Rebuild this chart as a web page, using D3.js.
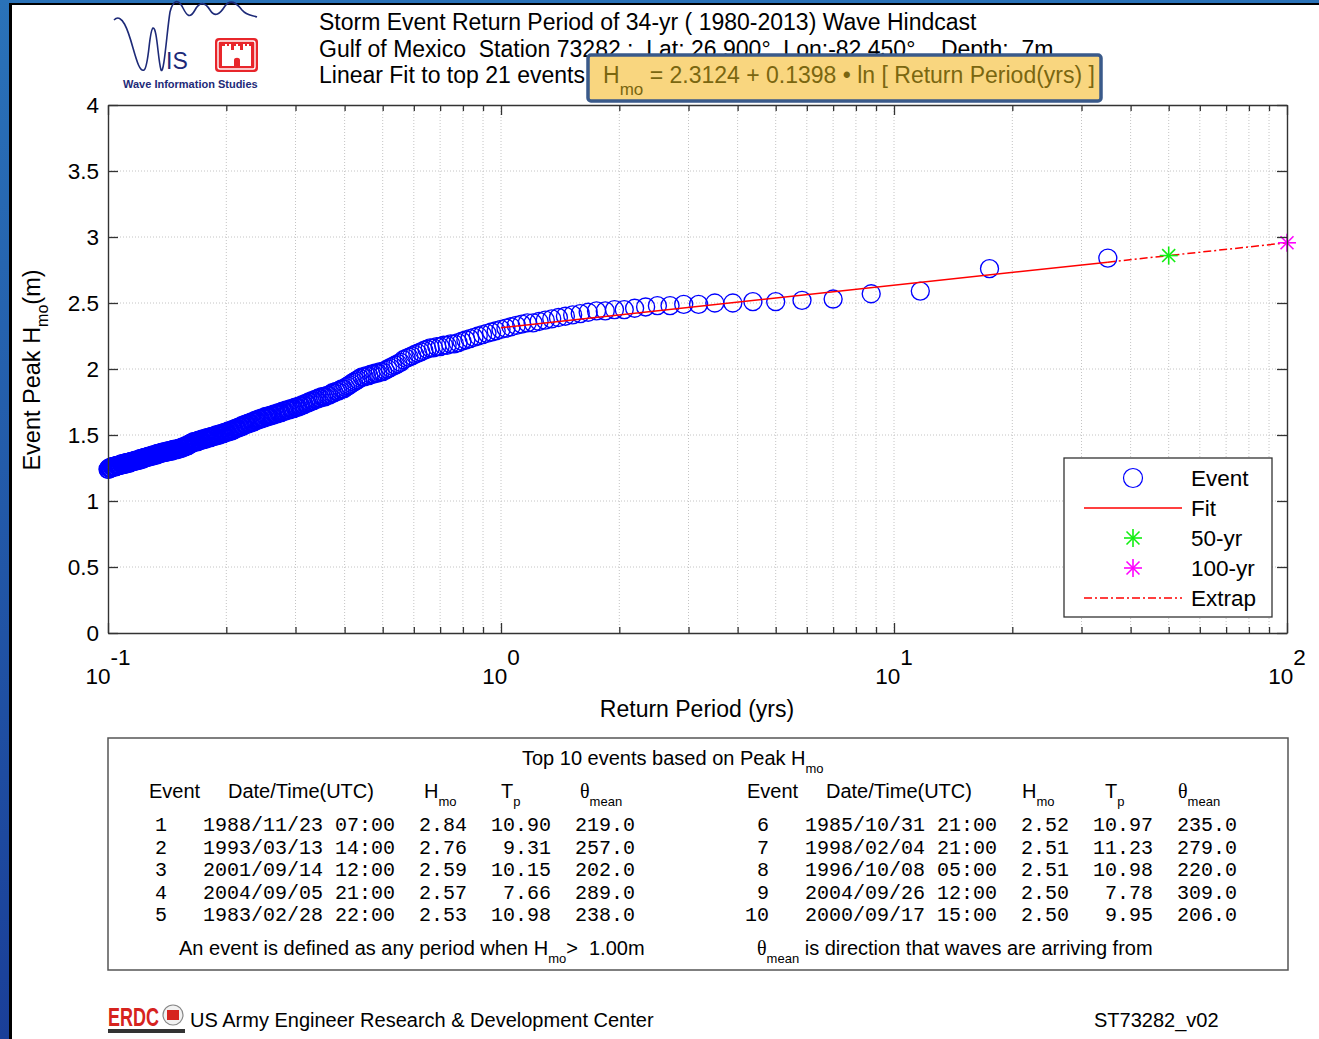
<!DOCTYPE html>
<html>
<head>
<meta charset="utf-8">
<script src="https://cdn.jsdelivr.net/npm/d3@7"></script>
<style>
  html, body { margin: 0; padding: 0; background: #fff; }
  svg { display: block; }
  text { font-family: "Liberation Sans", Arial, Helvetica, sans-serif; fill: #000; }
  .mono { font-family: "Liberation Mono", "Courier New", monospace; }
  .pre { white-space: pre; }
</style>
</head>
<body>
<svg id="chart" width="1319" height="1039"></svg>
<script>
// ---- Hindcast record -------------------------------------------------------
const recordYears = 34;              // 1980-2013
const eventThreshold = 1.00;         // m, Hmo threshold defining an event

// Peak Hmo (m) of every storm event, ranked from largest to smallest
const eventHmo = [
  2.84, 2.76, 2.59, 2.57, 2.53, 2.52, 2.51, 2.51, 2.50, 2.50,
  2.49, 2.49, 2.48, 2.48, 2.47, 2.46, 2.45, 2.45, 2.44, 2.44,
  2.43, 2.42, 2.41, 2.40, 2.39, 2.38, 2.37, 2.36, 2.35, 2.35,
  2.34, 2.33, 2.32, 2.31, 2.30, 2.29, 2.28, 2.27, 2.26, 2.25,
  2.24, 2.23, 2.22, 2.21, 2.20, 2.19, 2.19, 2.18, 2.18, 2.17,
  2.17, 2.16, 2.16, 2.15, 2.14, 2.13, 2.12, 2.11, 2.10, 2.09,
  2.08, 2.07, 2.05, 2.04, 2.03, 2.02, 2.01, 2.00, 1.99, 1.98,
  1.98, 1.97, 1.97, 1.96, 1.96, 1.95, 1.95, 1.94, 1.94, 1.93,
  1.92, 1.91, 1.90, 1.89, 1.88, 1.87, 1.86, 1.85, 1.85, 1.84,
  1.83, 1.83, 1.82, 1.82, 1.81, 1.80, 1.80, 1.79, 1.79, 1.79,
  1.78, 1.78, 1.77, 1.77, 1.76, 1.76, 1.75, 1.75, 1.74, 1.74,
  1.73, 1.73, 1.72, 1.72, 1.71, 1.71, 1.71, 1.70, 1.70, 1.70,
  1.69, 1.69, 1.69, 1.68, 1.68, 1.68, 1.67, 1.67, 1.67, 1.66,
  1.66, 1.66, 1.65, 1.65, 1.65, 1.64, 1.64, 1.64, 1.64, 1.63,
  1.63, 1.63, 1.62, 1.62, 1.62, 1.61, 1.61, 1.61, 1.60, 1.60,
  1.60, 1.59, 1.59, 1.59, 1.58, 1.58, 1.58, 1.57, 1.57, 1.57,
  1.56, 1.56, 1.56, 1.55, 1.55, 1.55, 1.54, 1.54, 1.54, 1.53,
  1.53, 1.53, 1.53, 1.52, 1.52, 1.52, 1.52, 1.51, 1.51, 1.51,
  1.51, 1.50, 1.50, 1.50, 1.50, 1.50, 1.49, 1.49, 1.49, 1.49,
  1.49, 1.48, 1.48, 1.48, 1.48, 1.48, 1.47, 1.47, 1.47, 1.47,
  1.47, 1.46, 1.46, 1.46, 1.46, 1.46, 1.45, 1.45, 1.45, 1.45,
  1.45, 1.45, 1.44, 1.44, 1.44, 1.43, 1.43, 1.43, 1.42, 1.42,
  1.42, 1.42, 1.41, 1.41, 1.41, 1.41, 1.40, 1.40, 1.40, 1.40,
  1.40, 1.39, 1.39, 1.39, 1.39, 1.39, 1.39, 1.39, 1.39, 1.38,
  1.38, 1.38, 1.38, 1.38, 1.38, 1.38, 1.38, 1.37, 1.37, 1.37,
  1.37, 1.37, 1.37, 1.37, 1.37, 1.36, 1.36, 1.36, 1.36, 1.36,
  1.36, 1.36, 1.35, 1.35, 1.35, 1.35, 1.35, 1.35, 1.35, 1.34,
  1.34, 1.34, 1.34, 1.34, 1.34, 1.34, 1.33, 1.33, 1.33, 1.33,
  1.33, 1.33, 1.33, 1.32, 1.32, 1.32, 1.32, 1.32, 1.32, 1.32,
  1.31, 1.31, 1.31, 1.31, 1.31, 1.31, 1.31, 1.31, 1.30, 1.30,
  1.30, 1.30, 1.30, 1.30, 1.30, 1.30, 1.29, 1.29, 1.29, 1.29,
  1.29, 1.29, 1.29, 1.29, 1.29, 1.28, 1.28, 1.28, 1.28, 1.28,
  1.28, 1.28, 1.28, 1.28, 1.27, 1.27, 1.27, 1.27, 1.27, 1.27,
  1.27, 1.27, 1.27, 1.26, 1.26, 1.26, 1.26, 1.26, 1.26, 1.26,
  1.26, 1.26, 1.25, 1.25, 1.25, 1.25, 1.25, 1.25, 1.24, 1.24
];

// Linear fit  Hmo = a + b * ln(T)  over the top events
const fitIntercept = 2.3124;
const fitSlope = 0.1398;
const fitEventCount = 21;
const designPeriods = [50, 100];          // yr, extrapolated return levels
const extrapEnd = 100;

// Axis ticks
const yTicks = [0, 0.5, 1, 1.5, 2, 2.5, 3, 3.5, 4];
const yTickLabels = ["0", "0.5", "1", "1.5", "2", "2.5", "3", "3.5", "4"];
const xMajorTicks = [0.1, 1, 10, 100];
const xTickExponents = ["-1", "0", "1", "2"];

// Top-10 table
const tableDates = ["1988/11/23 07:00", "1993/03/13 14:00", "2001/09/14 12:00", "2004/09/05 21:00", "1983/02/28 22:00",
                    "1985/10/31 21:00", "1998/02/04 21:00", "1996/10/08 05:00", "2004/09/26 12:00", "2000/09/17 15:00"];
const tableTp    = [10.90, 9.31, 10.15, 7.66, 10.98, 10.97, 11.23, 10.98, 7.78, 9.95];
const tableTheta = [219.0, 257.0, 202.0, 289.0, 238.0, 235.0, 279.0, 220.0, 309.0, 206.0];

// ---- Drawing ---------------------------------------------------------------
const W = 1319, H = 1039;
const FS = 22.5;                       // plot text size
const svg = d3.select("#chart");

// slide backdrop with the white panel
const defs = svg.append("defs");
const bg = defs.append("linearGradient").attr("id", "bgBlue").attr("x1", 0).attr("y1", 0).attr("x2", 0).attr("y2", 1);
bg.append("stop").attr("offset", 0).attr("stop-color", "#2a72b8");
bg.append("stop").attr("offset", 1).attr("stop-color", "#1a3f99");
svg.append("rect").attr("width", W).attr("height", H).attr("fill", "url(#bgBlue)");
svg.append("rect").attr("x", 9).attr("y", 3).attr("width", W - 9).attr("height", H - 3).attr("fill", "#000");
svg.append("rect").attr("x", 12).attr("y", 5).attr("width", W - 12).attr("height", H - 5).attr("fill", "#fff");

const x = d3.scaleLog().domain([0.1, 100]).range([108, 1287]);
const y = d3.scaleLinear().domain([0, 4]).range([633, 105]);
const [x0, x1] = x.range(), [y0, y1] = y.range();

const returnPeriod = rank => (recordYears + 1) / rank;
const fitHmo = T => fitIntercept + fitSlope * Math.log(T);

// grid
const allXTicks = x.ticks();
const grid = svg.append("g").attr("stroke", "#c4c4c4").attr("stroke-width", 1).attr("stroke-dasharray", "1,2");
grid.selectAll("line.v").data(allXTicks.filter(t => t > 0.1 && t < 100)).join("line")
  .attr("x1", d => x(d)).attr("x2", d => x(d)).attr("y1", y1).attr("y2", y0);
grid.selectAll("line.h").data(yTicks.filter(t => t > 0 && t < 4)).join("line")
  .attr("x1", x0).attr("x2", x1).attr("y1", d => y(d)).attr("y2", d => y(d));

// events
const events = eventHmo.map((h, i) => ({ T: returnPeriod(i + 1), h }));
svg.append("g").selectAll("circle").data(events).join("circle")
  .attr("cx", d => x(d.T)).attr("cy", d => y(d.h)).attr("r", 9)
  .attr("fill", "none").attr("stroke", "#0000ff").attr("stroke-width", 1.35);

// fit and extrapolation
const fitLine = d3.line().x(d => x(d)).y(d => y(fitHmo(d)));
const tFitStart = 1, tFitEnd = returnPeriod(1);
svg.append("path").attr("d", fitLine([tFitStart, tFitEnd]))
  .attr("fill", "none").attr("stroke", "#ff0000").attr("stroke-width", 1.5);
svg.append("path").attr("d", fitLine([tFitEnd, extrapEnd]))
  .attr("fill", "none").attr("stroke", "#ff0000").attr("stroke-width", 1.5).attr("stroke-dasharray", "8,3,2,3");

function star(g, cx, cy, r, color) {
  const d = r * 0.72;
  const s = g.append("g").attr("stroke", color).attr("stroke-width", 1.6);
  s.append("line").attr("x1", cx - r).attr("x2", cx + r).attr("y1", cy).attr("y2", cy);
  s.append("line").attr("x1", cx).attr("x2", cx).attr("y1", cy - r).attr("y2", cy + r);
  s.append("line").attr("x1", cx - d).attr("x2", cx + d).attr("y1", cy - d).attr("y2", cy + d);
  s.append("line").attr("x1", cx - d).attr("x2", cx + d).attr("y1", cy + d).attr("y2", cy - d);
}
const starColors = ["#11ee11", "#ff00ff"];
designPeriods.forEach((T, i) => star(svg, x(T), y(fitHmo(T)), 9, starColors[i]));

// axes (ticks point inward, box all round)
function styleAxis(g) {
  g.selectAll("path.domain").attr("stroke", "#333").attr("stroke-width", 1.4);
  g.selectAll(".tick line").attr("stroke", "#333").attr("stroke-width", 1.3);
}
const minorX = allXTicks.filter(t => !xMajorTicks.includes(t));
svg.append("g").attr("transform", `translate(0,${y0})`)
  .call(d3.axisBottom(x).tickValues(xMajorTicks).tickSize(-10).tickSizeOuter(0).tickFormat(""))
  .call(styleAxis);
svg.append("g").attr("transform", `translate(0,${y0})`)
  .call(d3.axisBottom(x).tickValues(minorX).tickSize(-6).tickSizeOuter(0).tickFormat(""))
  .call(styleAxis).call(g => g.select(".domain").remove());
svg.append("g").attr("transform", `translate(0,${y1})`)
  .call(d3.axisTop(x).tickValues(xMajorTicks).tickSize(-10).tickSizeOuter(0).tickFormat(""))
  .call(styleAxis);
svg.append("g").attr("transform", `translate(0,${y1})`)
  .call(d3.axisTop(x).tickValues(minorX).tickSize(-6).tickSizeOuter(0).tickFormat(""))
  .call(styleAxis).call(g => g.select(".domain").remove());
const yAxis = svg.append("g").attr("transform", `translate(${x0},0)`)
  .call(d3.axisLeft(y).tickValues(yTicks).tickSize(-10).tickSizeOuter(0).tickPadding(9)
    .tickFormat((d, i) => yTickLabels[i]))
  .call(styleAxis);
yAxis.selectAll("text").attr("font-size", FS).attr("fill", "#111")
  .style("font-family", '"Liberation Sans", Arial, sans-serif');
svg.append("g").attr("transform", `translate(${x1},0)`)
  .call(d3.axisRight(y).tickValues(yTicks).tickSize(-10).tickSizeOuter(0).tickFormat(""))
  .call(styleAxis);

// x tick labels 10^n
xMajorTicks.forEach((v, i) => {
  const t = svg.append("text").attr("x", x(v)).attr("y", 684).attr("text-anchor", "middle")
    .attr("font-size", FS).attr("fill", "#111");
  t.append("tspan").text("10");
  t.append("tspan").attr("dy", -19).text(xTickExponents[i]);
});

// axis titles
svg.append("text").attr("x", 697).attr("y", 717).attr("text-anchor", "middle")
  .attr("font-size", 23).attr("fill", "#111").text("Return Period (yrs)");
const yt = svg.append("text").attr("transform", "translate(40,370) rotate(-90)")
  .attr("text-anchor", "middle").attr("font-size", 23.5).attr("fill", "#111");
yt.append("tspan").text("Event Peak H");
yt.append("tspan").attr("dy", 8).attr("font-size", 16).text("mo");
yt.append("tspan").attr("dy", -8).text("(m)");

// legend
const lg = svg.append("g");
lg.append("rect").attr("x", 1064).attr("y", 458).attr("width", 208).attr("height", 159)
  .attr("fill", "#fff").attr("stroke", "#333").attr("stroke-width", 1.3);
const legendItems = ["Event", "Fit", "50-yr", "100-yr", "Extrap"];
legendItems.forEach((name, i) => {
  const cy = 478 + i * 30;
  lg.append("text").attr("x", 1191).attr("y", cy + 8).attr("font-size", FS).attr("fill", "#111").text(name);
});
lg.append("circle").attr("cx", 1133).attr("cy", 478).attr("r", 9.5)
  .attr("fill", "none").attr("stroke", "#0000ff").attr("stroke-width", 1.2);
lg.append("line").attr("x1", 1084).attr("x2", 1182).attr("y1", 508).attr("y2", 508)
  .attr("stroke", "#ff0000").attr("stroke-width", 1.5);
star(lg, 1133, 538, 9, starColors[0]);
star(lg, 1133, 568, 9, starColors[1]);
lg.append("line").attr("x1", 1084).attr("x2", 1182).attr("y1", 598).attr("y2", 598)
  .attr("stroke", "#ff0000").attr("stroke-width", 1.5).attr("stroke-dasharray", "8,3,2,3");

// title block
const title = svg.append("g").attr("font-size", 23).attr("fill", "#111");
title.append("text").attr("x", 319).attr("y", 30).attr("class", "pre")
  .text(`Storm Event Return Period of ${recordYears}-yr ( 1980-2013) Wave Hindcast`);
title.append("text").attr("x", 319).attr("y", 57).attr("class", "pre")
  .text("Gulf of Mexico  Station 73282 :  Lat: 26.900\u00b0  Lon:-82.450\u00b0    Depth:  7m");
title.append("text").attr("x", 319).attr("y", 83)
  .text(`Linear Fit to top ${fitEventCount} events`);

// fit equation callout
svg.append("rect").attr("x", 588).attr("y", 55).attr("width", 513).attr("height", 46).attr("rx", 3)
  .attr("fill", "#f9d67f").attr("stroke", "#3a5a8a").attr("stroke-width", 3.5);
const eq = svg.append("text").attr("x", 603).attr("y", 83).attr("font-size", 23).attr("class", "pre")
  .style("fill", "#7a6610");
eq.append("tspan").text("H");
eq.append("tspan").attr("dy", 12).attr("font-size", 17).text("mo");
eq.append("tspan").attr("dy", -12).text(` = ${fitIntercept.toFixed(4)} + ${fitSlope.toFixed(4)} \u2022 ln [ Return Period(yrs) ]`);

// WIS logo
const logo = svg.append("g");
logo.append("path")
  .attr("d", "M114,20 C122,12 128,30 133,48 C137,62 140,72 144,70 C149,67 149,30 153,28 C157,27 158,60 161,70 " +
             "C164,76 167,30 170,12 C173,0 178,-2 183,8 C187,16 190,19 195,10 C200,1 205,2 210,10 C215,18 220,14 225,6 " +
             "C230,-1 236,2 242,10 C247,16 252,15 257,17")
  .attr("fill", "none").attr("stroke", "#1d2a78").attr("stroke-width", 1.6);
logo.append("text").attr("x", 166).attr("y", 69).attr("font-size", 23).style("fill", "#1d2a78")
  .attr("font-weight", 300).text("IS");
logo.append("rect").attr("x", 215).attr("y", 38).attr("width", 43).attr("height", 34).attr("rx", 4).attr("fill", "#e8262b");
logo.append("rect").attr("x", 218).attr("y", 41).attr("width", 37).attr("height", 28).attr("rx", 2)
  .attr("fill", "none").attr("stroke", "#fff").attr("stroke-width", 1.4);
logo.append("path")
  .attr("d", "M222,66 L222,46 L225,46 L225,44 L227,44 L227,46 L229,46 L229,44 L231,44 L231,50 L234,50 L234,46 L236,46 L236,44 L238,44 " +
             "L238,46 L240,46 L240,50 L243,50 L243,44 L245,44 L245,46 L247,46 L247,44 L249,44 L249,46 L251,46 L251,66 " +
             "L240,66 L240,60 C240,57 234,57 234,60 L234,66 Z")
  .attr("fill", "#fff");
logo.append("text").attr("x", 123).attr("y", 88).attr("font-size", 11).attr("font-weight", "bold")
  .style("fill", "#1d2a78").text("Wave Information Studies");

// ---- Top-10 table ----------------------------------------------------------
const tb = svg.append("g");
tb.append("rect").attr("x", 108).attr("y", 738).attr("width", 1180).attr("height", 232)
  .attr("fill", "#fff").attr("stroke", "#555").attr("stroke-width", 1.5);
const tTitle = tb.append("text").attr("x", 522).attr("y", 765).attr("font-size", 20).attr("fill", "#111");
tTitle.append("tspan").text("Top 10 events based on Peak H");
tTitle.append("tspan").attr("dy", 8).attr("font-size", 13).text("mo");

function header(ox) {
  const g = tb.append("g").attr("font-size", 20).attr("fill", "#111");
  g.append("text").attr("x", 149 + ox).attr("y", 798).text("Event");
  g.append("text").attr("x", 228 + ox).attr("y", 798).text("Date/Time(UTC)");
  const h = g.append("text").attr("x", 424 + ox).attr("y", 798);
  h.append("tspan").text("H");
  h.append("tspan").attr("dy", 8).attr("font-size", 13).text("mo");
  const t = g.append("text").attr("x", 501 + ox * 1.01).attr("y", 798);
  t.append("tspan").text("T");
  t.append("tspan").attr("dy", 8).attr("font-size", 13).text("p");
  const th = g.append("text").attr("x", 580 + ox).attr("y", 798);
  th.append("tspan").style("font-family", '"Liberation Serif", "Times New Roman", serif').text("\u03b8");
  th.append("tspan").attr("dx", 0).attr("dy", 8).attr("font-size", 13).text("mean");
}
header(0);
header(598);

const charW = 12;
tableDates.forEach((date, i) => {
  const left = i < 5;
  const ox = left ? 143 : 745;
  const by = 831 + (i % 5) * 22.6;
  const g = tb.append("g").attr("class", "mono").attr("font-size", 20).attr("fill", "#111");
  const cell = (endCol, txt) => g.append("text").attr("class", "mono").attr("x", ox + endCol * charW)
    .attr("y", by).attr("text-anchor", "end").text(txt);
  cell(2, String(i + 1));
  cell(21, date);
  cell(27, eventHmo[i].toFixed(2));
  cell(34, tableTp[i].toFixed(2));
  cell(41, tableTheta[i].toFixed(1));
});

const f1 = tb.append("text").attr("x", 179).attr("y", 955).attr("font-size", 20).attr("fill", "#111").attr("class", "pre");
f1.append("tspan").text("An event is defined as any period when H");
f1.append("tspan").attr("dy", 8).attr("font-size", 13).text("mo");
f1.append("tspan").attr("dy", -8).text(`>  ${eventThreshold.toFixed(2)}m`);
const f2 = tb.append("text").attr("x", 757).attr("y", 955).attr("font-size", 20).attr("fill", "#111").attr("class", "pre");
f2.append("tspan").style("font-family", '"Liberation Serif", "Times New Roman", serif').text("\u03b8");
f2.append("tspan").attr("dy", 8).attr("font-size", 13).text("mean");
f2.append("tspan").attr("dy", -8).text(" is direction that waves are arriving from");

// ---- footer ----------------------------------------------------------------
const erdc = svg.append("g");
erdc.append("text").attr("x", 108).attr("y", 1026).attr("font-size", 25).attr("font-weight", "bold")
  .attr("transform", "translate(108,0) scale(0.72,1) translate(-108,0)")
  .style("fill", "#d6231e").text("ERDC");
erdc.append("circle").attr("cx", 173).attr("cy", 1015).attr("r", 10).attr("fill", "#f2f2f2")
  .attr("stroke", "#888").attr("stroke-width", 1.2);
erdc.append("rect").attr("x", 167).attr("y", 1010).attr("width", 12).attr("height", 10).attr("fill", "#d6231e");
erdc.append("rect").attr("x", 108).attr("y", 1029).attr("width", 77).attr("height", 4).attr("fill", "#333");
svg.append("text").attr("x", 190).attr("y", 1027).attr("font-size", 20).attr("fill", "#111")
  .text("US Army Engineer Research & Development Center");
svg.append("text").attr("x", 1094).attr("y", 1027).attr("font-size", 20).attr("fill", "#111")
  .text("ST73282_v02");
</script>
</body>
</html>
